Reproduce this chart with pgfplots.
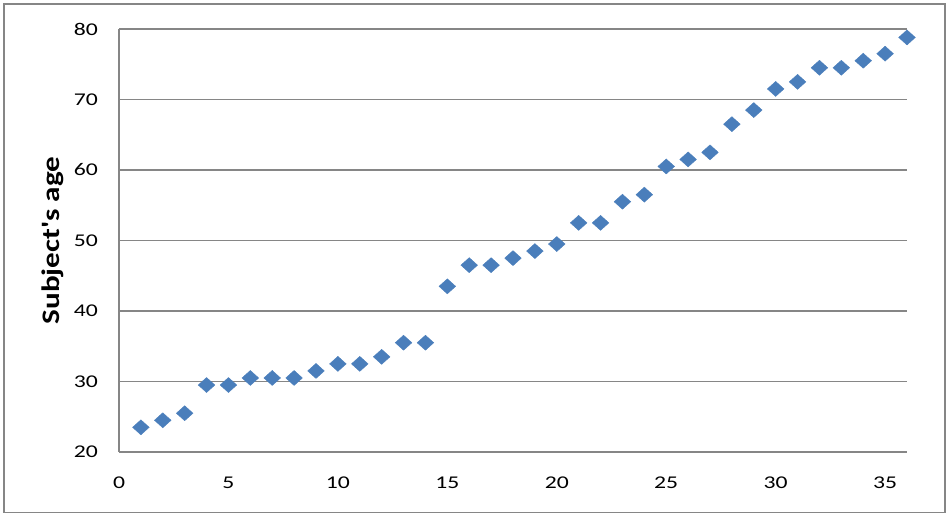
\documentclass[border=0pt]{standalone}
\usepackage{pgfplots}
\pgfplotsset{compat=1.18}
\usepackage{fontspec}
\setmainfont{Carlito}
\definecolor{mk}{HTML}{4A7EBB}
\definecolor{gr}{HTML}{868686}
\begin{document}
\begin{tikzpicture}
\path[use as bounding box] (0,0) rectangle (950bp,524bp);
\draw[gr, line width=1.2bp] (4bp,11.5bp) rectangle (945bp,520bp);
\begin{axis}[
  at={(119bp,72bp)}, anchor=south west,
  scale only axis, width=788bp, height=423bp,
  xmin=0, xmax=36, ymin=20, ymax=80,
  xtick={0,5,...,35}, ytick={20,30,...,80},
  axis x line=bottom, axis y line=left,
  axis line style={-, gr, line width=1.2bp},
  ymajorgrids, grid style={gr, line width=1.2bp},
  major tick length=0pt,
  clip=false,
  xticklabel={\scalebox{1.32}[1]{\pgfmathprintnumber[assume math mode=true]{\tick}}},
  yticklabel={\scalebox{1.32}[1]{\pgfmathprintnumber[assume math mode=true]{\tick}}},
  every tick label/.append style={font=\fontsize{18}{20}\selectfont, inner sep=0pt},
  xticklabel style={anchor=north, yshift=-25bp},
  yticklabel style={anchor=east, xshift=-21bp},
  ylabel={\scalebox{1.42}[1.15]{\bfseries\fontsize{22}{24}\selectfont Subject\textquotesingle s age}},
  every axis y label/.style={at={(axis description cs:0,0.5)}, xshift=-66bp, rotate=90, anchor=center},
]
\addplot[only marks, mark=diamond*, mark size=7.5bp, mark options={xscale=1.48, fill=mk, draw=mk}] coordinates {
(1,23.5) (2,24.5) (3,25.5) (4,29.5) (5,29.5) (6,30.5) (7,30.5) (8,30.5) (9,31.5)
(10,32.5) (11,32.5) (12,33.5) (13,35.5) (14,35.5) (15,43.5) (16,46.5) (17,46.5)
(18,47.5) (19,48.5) (20,49.5) (21,52.5) (22,52.5) (23,55.5) (24,56.5) (25,60.5)
(26,61.5) (27,62.5) (28,66.5) (29,68.5) (30,71.5) (31,72.5) (32,74.5) (33,74.5)
(34,75.5) (35,76.5) (36,78.8)
};
\end{axis}
\end{tikzpicture}
\end{document}
